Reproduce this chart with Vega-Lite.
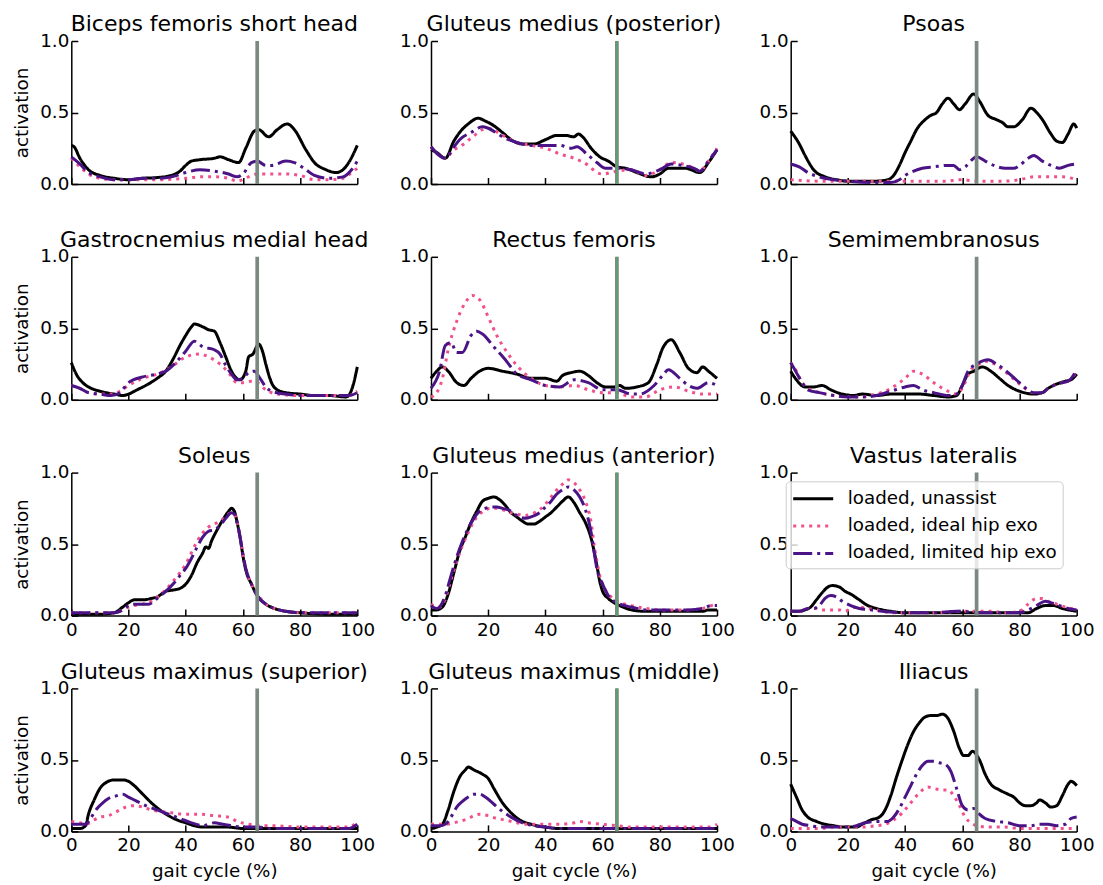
{
"$schema":"https://vega.github.io/schema/vega-lite/v6.json",
"background":"white",
"padding":{"left":12.3,"top":13,"right":5,"bottom":5},
"datasets":{"d":[
{"m":"BF","s":"u","x":0,"y":0.27},{"m":"BF","s":"u","x":1,"y":0.26},{"m":"BF","s":"u","x":3,"y":0.18},{"m":"BF","s":"u","x":6,"y":0.10},{"m":"BF","s":"u","x":10,"y":0.06},{"m":"BF","s":"u","x":15,"y":0.04},{"m":"BF","s":"u","x":20,"y":0.03},{"m":"BF","s":"u","x":25,"y":0.04},{"m":"BF","s":"u","x":30,"y":0.045},{"m":"BF","s":"u","x":35,"y":0.06},{"m":"BF","s":"u","x":38,"y":0.09},{"m":"BF","s":"u","x":40,"y":0.13},{"m":"BF","s":"u","x":42,"y":0.16},{"m":"BF","s":"u","x":45,"y":0.17},{"m":"BF","s":"u","x":50,"y":0.18},{"m":"BF","s":"u","x":52,"y":0.19},{"m":"BF","s":"u","x":55,"y":0.17},{"m":"BF","s":"u","x":58.5,"y":0.15},{"m":"BF","s":"u","x":61,"y":0.25},{"m":"BF","s":"u","x":64,"y":0.37},{"m":"BF","s":"u","x":65.5,"y":0.38},{"m":"BF","s":"u","x":69,"y":0.33},{"m":"BF","s":"u","x":72,"y":0.38},{"m":"BF","s":"u","x":75.5,"y":0.42},{"m":"BF","s":"u","x":78,"y":0.38},{"m":"BF","s":"u","x":82,"y":0.24},{"m":"BF","s":"u","x":85,"y":0.15},{"m":"BF","s":"u","x":89,"y":0.10},{"m":"BF","s":"u","x":92.5,"y":0.08},{"m":"BF","s":"u","x":95,"y":0.10},{"m":"BF","s":"u","x":97,"y":0.15},{"m":"BF","s":"u","x":100,"y":0.27},
{"m":"BF","s":"i","x":0,"y":0.18},{"m":"BF","s":"i","x":3,"y":0.12},{"m":"BF","s":"i","x":6,"y":0.07},{"m":"BF","s":"i","x":10,"y":0.04},{"m":"BF","s":"i","x":15,"y":0.03},{"m":"BF","s":"i","x":20,"y":0.03},{"m":"BF","s":"i","x":30,"y":0.03},{"m":"BF","s":"i","x":40,"y":0.04},{"m":"BF","s":"i","x":45,"y":0.05},{"m":"BF","s":"i","x":50,"y":0.05},{"m":"BF","s":"i","x":55,"y":0.04},{"m":"BF","s":"i","x":58,"y":0.02},{"m":"BF","s":"i","x":60,"y":0.03},{"m":"BF","s":"i","x":63,"y":0.06},{"m":"BF","s":"i","x":65,"y":0.07},{"m":"BF","s":"i","x":70,"y":0.07},{"m":"BF","s":"i","x":75,"y":0.07},{"m":"BF","s":"i","x":80,"y":0.06},{"m":"BF","s":"i","x":85,"y":0.03},{"m":"BF","s":"i","x":90,"y":0.03},{"m":"BF","s":"i","x":95,"y":0.04},{"m":"BF","s":"i","x":98,"y":0.08},{"m":"BF","s":"i","x":100,"y":0.11},
{"m":"BF","s":"l","x":0,"y":0.19},{"m":"BF","s":"l","x":3,"y":0.14},{"m":"BF","s":"l","x":6,"y":0.08},{"m":"BF","s":"l","x":10,"y":0.05},{"m":"BF","s":"l","x":15,"y":0.03},{"m":"BF","s":"l","x":20,"y":0.03},{"m":"BF","s":"l","x":25,"y":0.04},{"m":"BF","s":"l","x":30,"y":0.04},{"m":"BF","s":"l","x":35,"y":0.05},{"m":"BF","s":"l","x":40,"y":0.08},{"m":"BF","s":"l","x":45,"y":0.10},{"m":"BF","s":"l","x":50,"y":0.09},{"m":"BF","s":"l","x":55,"y":0.07},{"m":"BF","s":"l","x":58,"y":0.05},{"m":"BF","s":"l","x":60,"y":0.07},{"m":"BF","s":"l","x":63,"y":0.15},{"m":"BF","s":"l","x":65,"y":0.16},{"m":"BF","s":"l","x":68,"y":0.13},{"m":"BF","s":"l","x":70,"y":0.13},{"m":"BF","s":"l","x":75,"y":0.16},{"m":"BF","s":"l","x":78,"y":0.15},{"m":"BF","s":"l","x":82,"y":0.10},{"m":"BF","s":"l","x":85,"y":0.06},{"m":"BF","s":"l","x":90,"y":0.04},{"m":"BF","s":"l","x":95,"y":0.05},{"m":"BF","s":"l","x":98,"y":0.10},{"m":"BF","s":"l","x":100,"y":0.16},
{"m":"GMP","s":"u","x":0,"y":0.24},{"m":"GMP","s":"u","x":2,"y":0.22},{"m":"GMP","s":"u","x":5,"y":0.18},{"m":"GMP","s":"u","x":8,"y":0.30},{"m":"GMP","s":"u","x":10,"y":0.36},{"m":"GMP","s":"u","x":13,"y":0.42},{"m":"GMP","s":"u","x":16.5,"y":0.46},{"m":"GMP","s":"u","x":19,"y":0.44},{"m":"GMP","s":"u","x":21,"y":0.42},{"m":"GMP","s":"u","x":25,"y":0.36},{"m":"GMP","s":"u","x":28,"y":0.31},{"m":"GMP","s":"u","x":32,"y":0.28},{"m":"GMP","s":"u","x":36,"y":0.28},{"m":"GMP","s":"u","x":40,"y":0.31},{"m":"GMP","s":"u","x":44,"y":0.34},{"m":"GMP","s":"u","x":47,"y":0.34},{"m":"GMP","s":"u","x":50,"y":0.33},{"m":"GMP","s":"u","x":51.5,"y":0.35},{"m":"GMP","s":"u","x":53,"y":0.33},{"m":"GMP","s":"u","x":56,"y":0.25},{"m":"GMP","s":"u","x":59,"y":0.19},{"m":"GMP","s":"u","x":62,"y":0.16},{"m":"GMP","s":"u","x":65,"y":0.12},{"m":"GMP","s":"u","x":68,"y":0.11},{"m":"GMP","s":"u","x":72,"y":0.08},{"m":"GMP","s":"u","x":77,"y":0.05},{"m":"GMP","s":"u","x":80,"y":0.07},{"m":"GMP","s":"u","x":83,"y":0.11},{"m":"GMP","s":"u","x":86,"y":0.11},{"m":"GMP","s":"u","x":89,"y":0.11},{"m":"GMP","s":"u","x":94,"y":0.08},{"m":"GMP","s":"u","x":97,"y":0.15},{"m":"GMP","s":"u","x":100,"y":0.24},
{"m":"GMP","s":"i","x":0,"y":0.26},{"m":"GMP","s":"i","x":5,"y":0.18},{"m":"GMP","s":"i","x":8,"y":0.24},{"m":"GMP","s":"i","x":10,"y":0.26},{"m":"GMP","s":"i","x":14,"y":0.32},{"m":"GMP","s":"i","x":18,"y":0.38},{"m":"GMP","s":"i","x":20,"y":0.39},{"m":"GMP","s":"i","x":25,"y":0.34},{"m":"GMP","s":"i","x":30,"y":0.29},{"m":"GMP","s":"i","x":35,"y":0.27},{"m":"GMP","s":"i","x":40,"y":0.25},{"m":"GMP","s":"i","x":45,"y":0.21},{"m":"GMP","s":"i","x":50,"y":0.18},{"m":"GMP","s":"i","x":55,"y":0.13},{"m":"GMP","s":"i","x":58,"y":0.08},{"m":"GMP","s":"i","x":60,"y":0.07},{"m":"GMP","s":"i","x":65,"y":0.09},{"m":"GMP","s":"i","x":70,"y":0.10},{"m":"GMP","s":"i","x":75,"y":0.06},{"m":"GMP","s":"i","x":80,"y":0.10},{"m":"GMP","s":"i","x":84,"y":0.15},{"m":"GMP","s":"i","x":88,"y":0.14},{"m":"GMP","s":"i","x":92,"y":0.11},{"m":"GMP","s":"i","x":94,"y":0.09},{"m":"GMP","s":"i","x":97,"y":0.16},{"m":"GMP","s":"i","x":100,"y":0.25},
{"m":"GMP","s":"l","x":0,"y":0.26},{"m":"GMP","s":"l","x":5,"y":0.18},{"m":"GMP","s":"l","x":8,"y":0.26},{"m":"GMP","s":"l","x":10,"y":0.31},{"m":"GMP","s":"l","x":14,"y":0.36},{"m":"GMP","s":"l","x":18,"y":0.40},{"m":"GMP","s":"l","x":20,"y":0.39},{"m":"GMP","s":"l","x":25,"y":0.33},{"m":"GMP","s":"l","x":30,"y":0.29},{"m":"GMP","s":"l","x":35,"y":0.27},{"m":"GMP","s":"l","x":40,"y":0.27},{"m":"GMP","s":"l","x":45,"y":0.27},{"m":"GMP","s":"l","x":49,"y":0.25},{"m":"GMP","s":"l","x":51,"y":0.26},{"m":"GMP","s":"l","x":55,"y":0.20},{"m":"GMP","s":"l","x":58,"y":0.15},{"m":"GMP","s":"l","x":61,"y":0.11},{"m":"GMP","s":"l","x":65,"y":0.11},{"m":"GMP","s":"l","x":70,"y":0.10},{"m":"GMP","s":"l","x":75,"y":0.07},{"m":"GMP","s":"l","x":80,"y":0.10},{"m":"GMP","s":"l","x":84,"y":0.14},{"m":"GMP","s":"l","x":88,"y":0.13},{"m":"GMP","s":"l","x":92,"y":0.11},{"m":"GMP","s":"l","x":94,"y":0.09},{"m":"GMP","s":"l","x":97,"y":0.16},{"m":"GMP","s":"l","x":100,"y":0.24},
{"m":"PS","s":"u","x":0,"y":0.37},{"m":"PS","s":"u","x":3,"y":0.28},{"m":"PS","s":"u","x":5,"y":0.20},{"m":"PS","s":"u","x":8,"y":0.10},{"m":"PS","s":"u","x":12,"y":0.05},{"m":"PS","s":"u","x":16,"y":0.03},{"m":"PS","s":"u","x":20,"y":0.02},{"m":"PS","s":"u","x":25,"y":0.02},{"m":"PS","s":"u","x":30,"y":0.02},{"m":"PS","s":"u","x":34,"y":0.03},{"m":"PS","s":"u","x":36,"y":0.06},{"m":"PS","s":"u","x":38,"y":0.13},{"m":"PS","s":"u","x":40,"y":0.22},{"m":"PS","s":"u","x":42,"y":0.30},{"m":"PS","s":"u","x":44,"y":0.38},{"m":"PS","s":"u","x":47,"y":0.45},{"m":"PS","s":"u","x":49,"y":0.48},{"m":"PS","s":"u","x":51,"y":0.50},{"m":"PS","s":"u","x":53,"y":0.56},{"m":"PS","s":"u","x":55,"y":0.60},{"m":"PS","s":"u","x":57,"y":0.56},{"m":"PS","s":"u","x":59,"y":0.52},{"m":"PS","s":"u","x":61,"y":0.56},{"m":"PS","s":"u","x":64,"y":0.63},{"m":"PS","s":"u","x":66,"y":0.58},{"m":"PS","s":"u","x":69,"y":0.48},{"m":"PS","s":"u","x":72,"y":0.45},{"m":"PS","s":"u","x":74,"y":0.43},{"m":"PS","s":"u","x":76,"y":0.40},{"m":"PS","s":"u","x":78,"y":0.40},{"m":"PS","s":"u","x":81,"y":0.45},{"m":"PS","s":"u","x":84,"y":0.53},{"m":"PS","s":"u","x":86,"y":0.50},{"m":"PS","s":"u","x":88,"y":0.45},{"m":"PS","s":"u","x":91,"y":0.35},{"m":"PS","s":"u","x":93,"y":0.30},{"m":"PS","s":"u","x":95,"y":0.29},{"m":"PS","s":"u","x":97,"y":0.35},{"m":"PS","s":"u","x":99,"y":0.42},{"m":"PS","s":"u","x":100,"y":0.39},
{"m":"PS","s":"i","x":0,"y":0.03},{"m":"PS","s":"i","x":10,"y":0.02},{"m":"PS","s":"i","x":20,"y":0.02},{"m":"PS","s":"i","x":30,"y":0.02},{"m":"PS","s":"i","x":40,"y":0.02},{"m":"PS","s":"i","x":50,"y":0.02},{"m":"PS","s":"i","x":55,"y":0.02},{"m":"PS","s":"i","x":58,"y":0.03},{"m":"PS","s":"i","x":60,"y":0.03},{"m":"PS","s":"i","x":65,"y":0.02},{"m":"PS","s":"i","x":70,"y":0.02},{"m":"PS","s":"i","x":75,"y":0.02},{"m":"PS","s":"i","x":80,"y":0.03},{"m":"PS","s":"i","x":85,"y":0.05},{"m":"PS","s":"i","x":90,"y":0.05},{"m":"PS","s":"i","x":95,"y":0.05},{"m":"PS","s":"i","x":100,"y":0.03},
{"m":"PS","s":"l","x":0,"y":0.14},{"m":"PS","s":"l","x":3,"y":0.12},{"m":"PS","s":"l","x":6,"y":0.08},{"m":"PS","s":"l","x":10,"y":0.05},{"m":"PS","s":"l","x":15,"y":0.03},{"m":"PS","s":"l","x":20,"y":0.02},{"m":"PS","s":"l","x":30,"y":0.01},{"m":"PS","s":"l","x":35,"y":0.01},{"m":"PS","s":"l","x":38,"y":0.03},{"m":"PS","s":"l","x":40,"y":0.06},{"m":"PS","s":"l","x":43,"y":0.09},{"m":"PS","s":"l","x":46,"y":0.11},{"m":"PS","s":"l","x":50,"y":0.12},{"m":"PS","s":"l","x":55,"y":0.13},{"m":"PS","s":"l","x":57,"y":0.13},{"m":"PS","s":"l","x":59,"y":0.10},{"m":"PS","s":"l","x":61,"y":0.12},{"m":"PS","s":"l","x":64,"y":0.18},{"m":"PS","s":"l","x":65,"y":0.19},{"m":"PS","s":"l","x":68,"y":0.16},{"m":"PS","s":"l","x":71,"y":0.13},{"m":"PS","s":"l","x":75,"y":0.11},{"m":"PS","s":"l","x":78,"y":0.11},{"m":"PS","s":"l","x":80,"y":0.13},{"m":"PS","s":"l","x":83,"y":0.18},{"m":"PS","s":"l","x":85,"y":0.20},{"m":"PS","s":"l","x":88,"y":0.16},{"m":"PS","s":"l","x":91,"y":0.13},{"m":"PS","s":"l","x":94,"y":0.11},{"m":"PS","s":"l","x":97,"y":0.13},{"m":"PS","s":"l","x":100,"y":0.14},
{"m":"GM","s":"u","x":0,"y":0.26},{"m":"GM","s":"u","x":2,"y":0.17},{"m":"GM","s":"u","x":4,"y":0.12},{"m":"GM","s":"u","x":7,"y":0.08},{"m":"GM","s":"u","x":10,"y":0.06},{"m":"GM","s":"u","x":15,"y":0.04},{"m":"GM","s":"u","x":18,"y":0.03},{"m":"GM","s":"u","x":20,"y":0.04},{"m":"GM","s":"u","x":23,"y":0.07},{"m":"GM","s":"u","x":26,"y":0.10},{"m":"GM","s":"u","x":30,"y":0.15},{"m":"GM","s":"u","x":33,"y":0.20},{"m":"GM","s":"u","x":36,"y":0.30},{"m":"GM","s":"u","x":38,"y":0.38},{"m":"GM","s":"u","x":40,"y":0.45},{"m":"GM","s":"u","x":42,"y":0.51},{"m":"GM","s":"u","x":43,"y":0.53},{"m":"GM","s":"u","x":46,"y":0.51},{"m":"GM","s":"u","x":48,"y":0.49},{"m":"GM","s":"u","x":50,"y":0.48},{"m":"GM","s":"u","x":52,"y":0.40},{"m":"GM","s":"u","x":54,"y":0.30},{"m":"GM","s":"u","x":56,"y":0.20},{"m":"GM","s":"u","x":59,"y":0.14},{"m":"GM","s":"u","x":61,"y":0.20},{"m":"GM","s":"u","x":62,"y":0.30},{"m":"GM","s":"u","x":63.5,"y":0.32},{"m":"GM","s":"u","x":65.5,"y":0.39},{"m":"GM","s":"u","x":67,"y":0.33},{"m":"GM","s":"u","x":68,"y":0.25},{"m":"GM","s":"u","x":70,"y":0.12},{"m":"GM","s":"u","x":72,"y":0.07},{"m":"GM","s":"u","x":75,"y":0.05},{"m":"GM","s":"u","x":80,"y":0.04},{"m":"GM","s":"u","x":85,"y":0.03},{"m":"GM","s":"u","x":90,"y":0.03},{"m":"GM","s":"u","x":96,"y":0.02},{"m":"GM","s":"u","x":97,"y":0.03},{"m":"GM","s":"u","x":98.5,"y":0.10},{"m":"GM","s":"u","x":100,"y":0.23},
{"m":"GM","s":"i","x":0,"y":0.10},{"m":"GM","s":"i","x":3,"y":0.08},{"m":"GM","s":"i","x":6,"y":0.05},{"m":"GM","s":"i","x":10,"y":0.04},{"m":"GM","s":"i","x":14,"y":0.04},{"m":"GM","s":"i","x":17,"y":0.06},{"m":"GM","s":"i","x":20,"y":0.10},{"m":"GM","s":"i","x":25,"y":0.15},{"m":"GM","s":"i","x":30,"y":0.18},{"m":"GM","s":"i","x":35,"y":0.23},{"m":"GM","s":"i","x":40,"y":0.30},{"m":"GM","s":"i","x":45,"y":0.32},{"m":"GM","s":"i","x":48,"y":0.30},{"m":"GM","s":"i","x":52,"y":0.25},{"m":"GM","s":"i","x":55,"y":0.19},{"m":"GM","s":"i","x":58,"y":0.12},{"m":"GM","s":"i","x":60,"y":0.12},{"m":"GM","s":"i","x":63,"y":0.13},{"m":"GM","s":"i","x":65,"y":0.12},{"m":"GM","s":"i","x":68,"y":0.07},{"m":"GM","s":"i","x":72,"y":0.04},{"m":"GM","s":"i","x":80,"y":0.03},{"m":"GM","s":"i","x":90,"y":0.03},{"m":"GM","s":"i","x":97,"y":0.03},{"m":"GM","s":"i","x":100,"y":0.06},
{"m":"GM","s":"l","x":0,"y":0.10},{"m":"GM","s":"l","x":3,"y":0.08},{"m":"GM","s":"l","x":6,"y":0.05},{"m":"GM","s":"l","x":10,"y":0.04},{"m":"GM","s":"l","x":14,"y":0.03},{"m":"GM","s":"l","x":17,"y":0.05},{"m":"GM","s":"l","x":20,"y":0.12},{"m":"GM","s":"l","x":25,"y":0.16},{"m":"GM","s":"l","x":30,"y":0.18},{"m":"GM","s":"l","x":33,"y":0.20},{"m":"GM","s":"l","x":36,"y":0.25},{"m":"GM","s":"l","x":40,"y":0.34},{"m":"GM","s":"l","x":43,"y":0.41},{"m":"GM","s":"l","x":46,"y":0.37},{"m":"GM","s":"l","x":50,"y":0.35},{"m":"GM","s":"l","x":52,"y":0.32},{"m":"GM","s":"l","x":54,"y":0.24},{"m":"GM","s":"l","x":56,"y":0.18},{"m":"GM","s":"l","x":58,"y":0.14},{"m":"GM","s":"l","x":60,"y":0.15},{"m":"GM","s":"l","x":62,"y":0.19},{"m":"GM","s":"l","x":64,"y":0.20},{"m":"GM","s":"l","x":66,"y":0.15},{"m":"GM","s":"l","x":68,"y":0.09},{"m":"GM","s":"l","x":70,"y":0.06},{"m":"GM","s":"l","x":75,"y":0.04},{"m":"GM","s":"l","x":80,"y":0.03},{"m":"GM","s":"l","x":90,"y":0.03},{"m":"GM","s":"l","x":97,"y":0.03},{"m":"GM","s":"l","x":100,"y":0.05},
{"m":"RF","s":"u","x":0,"y":0.15},{"m":"RF","s":"u","x":2,"y":0.20},{"m":"RF","s":"u","x":4,"y":0.23},{"m":"RF","s":"u","x":6,"y":0.20},{"m":"RF","s":"u","x":9,"y":0.12},{"m":"RF","s":"u","x":11.5,"y":0.10},{"m":"RF","s":"u","x":14,"y":0.15},{"m":"RF","s":"u","x":17,"y":0.20},{"m":"RF","s":"u","x":20,"y":0.22},{"m":"RF","s":"u","x":25,"y":0.20},{"m":"RF","s":"u","x":30,"y":0.18},{"m":"RF","s":"u","x":35,"y":0.15},{"m":"RF","s":"u","x":40,"y":0.15},{"m":"RF","s":"u","x":44,"y":0.13},{"m":"RF","s":"u","x":46,"y":0.17},{"m":"RF","s":"u","x":49,"y":0.19},{"m":"RF","s":"u","x":52,"y":0.20},{"m":"RF","s":"u","x":55,"y":0.17},{"m":"RF","s":"u","x":58,"y":0.12},{"m":"RF","s":"u","x":61,"y":0.09},{"m":"RF","s":"u","x":64,"y":0.09},{"m":"RF","s":"u","x":66,"y":0.10},{"m":"RF","s":"u","x":68,"y":0.08},{"m":"RF","s":"u","x":72,"y":0.09},{"m":"RF","s":"u","x":76,"y":0.12},{"m":"RF","s":"u","x":79,"y":0.25},{"m":"RF","s":"u","x":81,"y":0.36},{"m":"RF","s":"u","x":84,"y":0.42},{"m":"RF","s":"u","x":87,"y":0.33},{"m":"RF","s":"u","x":90,"y":0.22},{"m":"RF","s":"u","x":93,"y":0.19},{"m":"RF","s":"u","x":95,"y":0.23},{"m":"RF","s":"u","x":97,"y":0.20},{"m":"RF","s":"u","x":100,"y":0.15},
{"m":"RF","s":"i","x":0,"y":0.02},{"m":"RF","s":"i","x":2,"y":0.05},{"m":"RF","s":"i","x":4,"y":0.15},{"m":"RF","s":"i","x":6,"y":0.35},{"m":"RF","s":"i","x":9,"y":0.55},{"m":"RF","s":"i","x":12,"y":0.68},{"m":"RF","s":"i","x":14.5,"y":0.73},{"m":"RF","s":"i","x":17,"y":0.70},{"m":"RF","s":"i","x":20,"y":0.58},{"m":"RF","s":"i","x":23,"y":0.45},{"m":"RF","s":"i","x":26,"y":0.35},{"m":"RF","s":"i","x":30,"y":0.24},{"m":"RF","s":"i","x":35,"y":0.15},{"m":"RF","s":"i","x":40,"y":0.10},{"m":"RF","s":"i","x":45,"y":0.09},{"m":"RF","s":"i","x":50,"y":0.10},{"m":"RF","s":"i","x":55,"y":0.07},{"m":"RF","s":"i","x":60,"y":0.05},{"m":"RF","s":"i","x":65,"y":0.05},{"m":"RF","s":"i","x":70,"y":0.02},{"m":"RF","s":"i","x":75,"y":0.02},{"m":"RF","s":"i","x":80,"y":0.07},{"m":"RF","s":"i","x":85,"y":0.09},{"m":"RF","s":"i","x":90,"y":0.06},{"m":"RF","s":"i","x":95,"y":0.04},{"m":"RF","s":"i","x":100,"y":0.04},
{"m":"RF","s":"l","x":0,"y":0.08},{"m":"RF","s":"l","x":3,"y":0.20},{"m":"RF","s":"l","x":5,"y":0.38},{"m":"RF","s":"l","x":7,"y":0.40},{"m":"RF","s":"l","x":9,"y":0.33},{"m":"RF","s":"l","x":11,"y":0.33},{"m":"RF","s":"l","x":14,"y":0.45},{"m":"RF","s":"l","x":16,"y":0.48},{"m":"RF","s":"l","x":18,"y":0.46},{"m":"RF","s":"l","x":22,"y":0.37},{"m":"RF","s":"l","x":26,"y":0.28},{"m":"RF","s":"l","x":30,"y":0.18},{"m":"RF","s":"l","x":35,"y":0.14},{"m":"RF","s":"l","x":40,"y":0.10},{"m":"RF","s":"l","x":45,"y":0.09},{"m":"RF","s":"l","x":50,"y":0.14},{"m":"RF","s":"l","x":55,"y":0.12},{"m":"RF","s":"l","x":60,"y":0.07},{"m":"RF","s":"l","x":65,"y":0.07},{"m":"RF","s":"l","x":70,"y":0.04},{"m":"RF","s":"l","x":73,"y":0.04},{"m":"RF","s":"l","x":78,"y":0.10},{"m":"RF","s":"l","x":81,"y":0.17},{"m":"RF","s":"l","x":83,"y":0.21},{"m":"RF","s":"l","x":87,"y":0.15},{"m":"RF","s":"l","x":90,"y":0.10},{"m":"RF","s":"l","x":93,"y":0.08},{"m":"RF","s":"l","x":97,"y":0.12},{"m":"RF","s":"l","x":100,"y":0.10},
{"m":"SM","s":"u","x":0,"y":0.20},{"m":"SM","s":"u","x":2,"y":0.14},{"m":"SM","s":"u","x":5,"y":0.09},{"m":"SM","s":"u","x":8,"y":0.09},{"m":"SM","s":"u","x":11,"y":0.10},{"m":"SM","s":"u","x":14,"y":0.07},{"m":"SM","s":"u","x":18,"y":0.04},{"m":"SM","s":"u","x":22,"y":0.03},{"m":"SM","s":"u","x":25,"y":0.04},{"m":"SM","s":"u","x":30,"y":0.03},{"m":"SM","s":"u","x":35,"y":0.04},{"m":"SM","s":"u","x":40,"y":0.04},{"m":"SM","s":"u","x":45,"y":0.04},{"m":"SM","s":"u","x":50,"y":0.03},{"m":"SM","s":"u","x":55,"y":0.02},{"m":"SM","s":"u","x":58,"y":0.03},{"m":"SM","s":"u","x":60,"y":0.10},{"m":"SM","s":"u","x":62,"y":0.18},{"m":"SM","s":"u","x":64,"y":0.20},{"m":"SM","s":"u","x":67,"y":0.23},{"m":"SM","s":"u","x":70,"y":0.20},{"m":"SM","s":"u","x":73,"y":0.15},{"m":"SM","s":"u","x":76,"y":0.10},{"m":"SM","s":"u","x":80,"y":0.06},{"m":"SM","s":"u","x":85,"y":0.04},{"m":"SM","s":"u","x":88,"y":0.05},{"m":"SM","s":"u","x":90,"y":0.08},{"m":"SM","s":"u","x":93,"y":0.11},{"m":"SM","s":"u","x":96,"y":0.13},{"m":"SM","s":"u","x":98,"y":0.14},{"m":"SM","s":"u","x":100,"y":0.18},
{"m":"SM","s":"i","x":0,"y":0.26},{"m":"SM","s":"i","x":2,"y":0.20},{"m":"SM","s":"i","x":4,"y":0.12},{"m":"SM","s":"i","x":6,"y":0.08},{"m":"SM","s":"i","x":10,"y":0.05},{"m":"SM","s":"i","x":15,"y":0.03},{"m":"SM","s":"i","x":20,"y":0.02},{"m":"SM","s":"i","x":25,"y":0.02},{"m":"SM","s":"i","x":30,"y":0.04},{"m":"SM","s":"i","x":35,"y":0.08},{"m":"SM","s":"i","x":40,"y":0.15},{"m":"SM","s":"i","x":43,"y":0.20},{"m":"SM","s":"i","x":46,"y":0.18},{"m":"SM","s":"i","x":50,"y":0.12},{"m":"SM","s":"i","x":55,"y":0.06},{"m":"SM","s":"i","x":58,"y":0.04},{"m":"SM","s":"i","x":60,"y":0.08},{"m":"SM","s":"i","x":63,"y":0.21},{"m":"SM","s":"i","x":65,"y":0.24},{"m":"SM","s":"i","x":69,"y":0.27},{"m":"SM","s":"i","x":72,"y":0.24},{"m":"SM","s":"i","x":76,"y":0.18},{"m":"SM","s":"i","x":80,"y":0.11},{"m":"SM","s":"i","x":85,"y":0.05},{"m":"SM","s":"i","x":88,"y":0.05},{"m":"SM","s":"i","x":90,"y":0.08},{"m":"SM","s":"i","x":93,"y":0.11},{"m":"SM","s":"i","x":97,"y":0.13},{"m":"SM","s":"i","x":100,"y":0.20},
{"m":"SM","s":"l","x":0,"y":0.26},{"m":"SM","s":"l","x":2,"y":0.19},{"m":"SM","s":"l","x":4,"y":0.12},{"m":"SM","s":"l","x":6,"y":0.07},{"m":"SM","s":"l","x":10,"y":0.05},{"m":"SM","s":"l","x":15,"y":0.03},{"m":"SM","s":"l","x":20,"y":0.02},{"m":"SM","s":"l","x":25,"y":0.02},{"m":"SM","s":"l","x":30,"y":0.03},{"m":"SM","s":"l","x":35,"y":0.06},{"m":"SM","s":"l","x":40,"y":0.09},{"m":"SM","s":"l","x":43,"y":0.10},{"m":"SM","s":"l","x":46,"y":0.07},{"m":"SM","s":"l","x":50,"y":0.05},{"m":"SM","s":"l","x":55,"y":0.03},{"m":"SM","s":"l","x":58,"y":0.04},{"m":"SM","s":"l","x":60,"y":0.10},{"m":"SM","s":"l","x":62,"y":0.20},{"m":"SM","s":"l","x":65,"y":0.25},{"m":"SM","s":"l","x":69,"y":0.28},{"m":"SM","s":"l","x":72,"y":0.25},{"m":"SM","s":"l","x":76,"y":0.19},{"m":"SM","s":"l","x":80,"y":0.12},{"m":"SM","s":"l","x":85,"y":0.05},{"m":"SM","s":"l","x":88,"y":0.05},{"m":"SM","s":"l","x":90,"y":0.08},{"m":"SM","s":"l","x":93,"y":0.11},{"m":"SM","s":"l","x":97,"y":0.13},{"m":"SM","s":"l","x":100,"y":0.21},
{"m":"SO","s":"u","x":0,"y":0.01},{"m":"SO","s":"u","x":10,"y":0.01},{"m":"SO","s":"u","x":15,"y":0.02},{"m":"SO","s":"u","x":18,"y":0.06},{"m":"SO","s":"u","x":20,"y":0.09},{"m":"SO","s":"u","x":22,"y":0.11},{"m":"SO","s":"u","x":25,"y":0.11},{"m":"SO","s":"u","x":28,"y":0.12},{"m":"SO","s":"u","x":30,"y":0.13},{"m":"SO","s":"u","x":33,"y":0.17},{"m":"SO","s":"u","x":36,"y":0.18},{"m":"SO","s":"u","x":38,"y":0.19},{"m":"SO","s":"u","x":40,"y":0.22},{"m":"SO","s":"u","x":42,"y":0.28},{"m":"SO","s":"u","x":44,"y":0.37},{"m":"SO","s":"u","x":46,"y":0.44},{"m":"SO","s":"u","x":47,"y":0.48},{"m":"SO","s":"u","x":48,"y":0.47},{"m":"SO","s":"u","x":49,"y":0.52},{"m":"SO","s":"u","x":51,"y":0.60},{"m":"SO","s":"u","x":53,"y":0.67},{"m":"SO","s":"u","x":55,"y":0.73},{"m":"SO","s":"u","x":56,"y":0.75},{"m":"SO","s":"u","x":57,"y":0.73},{"m":"SO","s":"u","x":58,"y":0.65},{"m":"SO","s":"u","x":59,"y":0.55},{"m":"SO","s":"u","x":60,"y":0.42},{"m":"SO","s":"u","x":61,"y":0.32},{"m":"SO","s":"u","x":63,"y":0.22},{"m":"SO","s":"u","x":65,"y":0.14},{"m":"SO","s":"u","x":68,"y":0.08},{"m":"SO","s":"u","x":71,"y":0.05},{"m":"SO","s":"u","x":75,"y":0.03},{"m":"SO","s":"u","x":80,"y":0.02},{"m":"SO","s":"u","x":90,"y":0.01},{"m":"SO","s":"u","x":100,"y":0.01},
{"m":"SO","s":"i","x":0,"y":0.02},{"m":"SO","s":"i","x":15,"y":0.02},{"m":"SO","s":"i","x":18,"y":0.04},{"m":"SO","s":"i","x":20,"y":0.06},{"m":"SO","s":"i","x":22,"y":0.07},{"m":"SO","s":"i","x":25,"y":0.08},{"m":"SO","s":"i","x":28,"y":0.10},{"m":"SO","s":"i","x":30,"y":0.13},{"m":"SO","s":"i","x":33,"y":0.18},{"m":"SO","s":"i","x":36,"y":0.25},{"m":"SO","s":"i","x":38,"y":0.30},{"m":"SO","s":"i","x":40,"y":0.36},{"m":"SO","s":"i","x":42,"y":0.44},{"m":"SO","s":"i","x":44,"y":0.52},{"m":"SO","s":"i","x":46,"y":0.58},{"m":"SO","s":"i","x":48,"y":0.62},{"m":"SO","s":"i","x":50,"y":0.64},{"m":"SO","s":"i","x":52,"y":0.66},{"m":"SO","s":"i","x":54,"y":0.69},{"m":"SO","s":"i","x":56,"y":0.72},{"m":"SO","s":"i","x":57,"y":0.71},{"m":"SO","s":"i","x":58,"y":0.65},{"m":"SO","s":"i","x":59,"y":0.55},{"m":"SO","s":"i","x":60,"y":0.43},{"m":"SO","s":"i","x":61,"y":0.33},{"m":"SO","s":"i","x":63,"y":0.22},{"m":"SO","s":"i","x":65,"y":0.15},{"m":"SO","s":"i","x":68,"y":0.08},{"m":"SO","s":"i","x":71,"y":0.05},{"m":"SO","s":"i","x":75,"y":0.03},{"m":"SO","s":"i","x":80,"y":0.02},{"m":"SO","s":"i","x":90,"y":0.02},{"m":"SO","s":"i","x":100,"y":0.02},
{"m":"SO","s":"l","x":0,"y":0.02},{"m":"SO","s":"l","x":15,"y":0.02},{"m":"SO","s":"l","x":18,"y":0.04},{"m":"SO","s":"l","x":20,"y":0.07},{"m":"SO","s":"l","x":22,"y":0.08},{"m":"SO","s":"l","x":25,"y":0.08},{"m":"SO","s":"l","x":27,"y":0.08},{"m":"SO","s":"l","x":30,"y":0.12},{"m":"SO","s":"l","x":33,"y":0.17},{"m":"SO","s":"l","x":36,"y":0.23},{"m":"SO","s":"l","x":38,"y":0.28},{"m":"SO","s":"l","x":40,"y":0.33},{"m":"SO","s":"l","x":42,"y":0.40},{"m":"SO","s":"l","x":44,"y":0.48},{"m":"SO","s":"l","x":46,"y":0.55},{"m":"SO","s":"l","x":48,"y":0.59},{"m":"SO","s":"l","x":50,"y":0.60},{"m":"SO","s":"l","x":52,"y":0.63},{"m":"SO","s":"l","x":54,"y":0.68},{"m":"SO","s":"l","x":56,"y":0.72},{"m":"SO","s":"l","x":57,"y":0.71},{"m":"SO","s":"l","x":58,"y":0.65},{"m":"SO","s":"l","x":59,"y":0.55},{"m":"SO","s":"l","x":60,"y":0.43},{"m":"SO","s":"l","x":61,"y":0.33},{"m":"SO","s":"l","x":63,"y":0.22},{"m":"SO","s":"l","x":65,"y":0.14},{"m":"SO","s":"l","x":68,"y":0.08},{"m":"SO","s":"l","x":71,"y":0.05},{"m":"SO","s":"l","x":75,"y":0.03},{"m":"SO","s":"l","x":80,"y":0.02},{"m":"SO","s":"l","x":90,"y":0.02},{"m":"SO","s":"l","x":100,"y":0.02},
{"m":"GMA","s":"u","x":0,"y":0.04},{"m":"GMA","s":"u","x":2,"y":0.04},{"m":"GMA","s":"u","x":4,"y":0.06},{"m":"GMA","s":"u","x":6,"y":0.15},{"m":"GMA","s":"u","x":8,"y":0.30},{"m":"GMA","s":"u","x":10,"y":0.45},{"m":"GMA","s":"u","x":12,"y":0.55},{"m":"GMA","s":"u","x":14,"y":0.65},{"m":"GMA","s":"u","x":16,"y":0.73},{"m":"GMA","s":"u","x":18,"y":0.80},{"m":"GMA","s":"u","x":20,"y":0.82},{"m":"GMA","s":"u","x":22,"y":0.83},{"m":"GMA","s":"u","x":24,"y":0.81},{"m":"GMA","s":"u","x":26,"y":0.77},{"m":"GMA","s":"u","x":28,"y":0.72},{"m":"GMA","s":"u","x":30,"y":0.69},{"m":"GMA","s":"u","x":32,"y":0.66},{"m":"GMA","s":"u","x":34,"y":0.64},{"m":"GMA","s":"u","x":36,"y":0.64},{"m":"GMA","s":"u","x":38,"y":0.66},{"m":"GMA","s":"u","x":40,"y":0.69},{"m":"GMA","s":"u","x":42,"y":0.72},{"m":"GMA","s":"u","x":44,"y":0.76},{"m":"GMA","s":"u","x":46,"y":0.80},{"m":"GMA","s":"u","x":48,"y":0.83},{"m":"GMA","s":"u","x":50,"y":0.79},{"m":"GMA","s":"u","x":52,"y":0.72},{"m":"GMA","s":"u","x":54,"y":0.65},{"m":"GMA","s":"u","x":56,"y":0.54},{"m":"GMA","s":"u","x":58,"y":0.35},{"m":"GMA","s":"u","x":59,"y":0.24},{"m":"GMA","s":"u","x":60,"y":0.17},{"m":"GMA","s":"u","x":62,"y":0.12},{"m":"GMA","s":"u","x":64,"y":0.09},{"m":"GMA","s":"u","x":66,"y":0.07},{"m":"GMA","s":"u","x":70,"y":0.04},{"m":"GMA","s":"u","x":75,"y":0.03},{"m":"GMA","s":"u","x":85,"y":0.03},{"m":"GMA","s":"u","x":95,"y":0.03},{"m":"GMA","s":"u","x":97,"y":0.04},{"m":"GMA","s":"u","x":100,"y":0.04},
{"m":"GMA","s":"i","x":0,"y":0.08},{"m":"GMA","s":"i","x":2,"y":0.06},{"m":"GMA","s":"i","x":3,"y":0.06},{"m":"GMA","s":"i","x":5,"y":0.12},{"m":"GMA","s":"i","x":7,"y":0.25},{"m":"GMA","s":"i","x":9,"y":0.38},{"m":"GMA","s":"i","x":11,"y":0.49},{"m":"GMA","s":"i","x":13,"y":0.58},{"m":"GMA","s":"i","x":15,"y":0.66},{"m":"GMA","s":"i","x":17,"y":0.71},{"m":"GMA","s":"i","x":19,"y":0.74},{"m":"GMA","s":"i","x":21,"y":0.75},{"m":"GMA","s":"i","x":23,"y":0.75},{"m":"GMA","s":"i","x":25,"y":0.74},{"m":"GMA","s":"i","x":28,"y":0.72},{"m":"GMA","s":"i","x":30,"y":0.71},{"m":"GMA","s":"i","x":33,"y":0.70},{"m":"GMA","s":"i","x":35,"y":0.71},{"m":"GMA","s":"i","x":38,"y":0.74},{"m":"GMA","s":"i","x":40,"y":0.78},{"m":"GMA","s":"i","x":42,"y":0.83},{"m":"GMA","s":"i","x":44,"y":0.88},{"m":"GMA","s":"i","x":46,"y":0.92},{"m":"GMA","s":"i","x":48,"y":0.95},{"m":"GMA","s":"i","x":50,"y":0.93},{"m":"GMA","s":"i","x":52,"y":0.88},{"m":"GMA","s":"i","x":54,"y":0.80},{"m":"GMA","s":"i","x":56,"y":0.65},{"m":"GMA","s":"i","x":57,"y":0.50},{"m":"GMA","s":"i","x":58,"y":0.38},{"m":"GMA","s":"i","x":59,"y":0.28},{"m":"GMA","s":"i","x":61,"y":0.18},{"m":"GMA","s":"i","x":63,"y":0.13},{"m":"GMA","s":"i","x":65,"y":0.10},{"m":"GMA","s":"i","x":70,"y":0.07},{"m":"GMA","s":"i","x":75,"y":0.05},{"m":"GMA","s":"i","x":80,"y":0.04},{"m":"GMA","s":"i","x":90,"y":0.04},{"m":"GMA","s":"i","x":95,"y":0.05},{"m":"GMA","s":"i","x":98,"y":0.07},{"m":"GMA","s":"i","x":100,"y":0.08},
{"m":"GMA","s":"l","x":0,"y":0.07},{"m":"GMA","s":"l","x":2,"y":0.05},{"m":"GMA","s":"l","x":3,"y":0.06},{"m":"GMA","s":"l","x":5,"y":0.14},{"m":"GMA","s":"l","x":7,"y":0.28},{"m":"GMA","s":"l","x":9,"y":0.41},{"m":"GMA","s":"l","x":11,"y":0.52},{"m":"GMA","s":"l","x":13,"y":0.61},{"m":"GMA","s":"l","x":15,"y":0.68},{"m":"GMA","s":"l","x":17,"y":0.73},{"m":"GMA","s":"l","x":19,"y":0.75},{"m":"GMA","s":"l","x":21,"y":0.76},{"m":"GMA","s":"l","x":23,"y":0.76},{"m":"GMA","s":"l","x":25,"y":0.75},{"m":"GMA","s":"l","x":28,"y":0.73},{"m":"GMA","s":"l","x":30,"y":0.70},{"m":"GMA","s":"l","x":33,"y":0.68},{"m":"GMA","s":"l","x":35,"y":0.69},{"m":"GMA","s":"l","x":38,"y":0.72},{"m":"GMA","s":"l","x":40,"y":0.76},{"m":"GMA","s":"l","x":42,"y":0.80},{"m":"GMA","s":"l","x":44,"y":0.85},{"m":"GMA","s":"l","x":46,"y":0.88},{"m":"GMA","s":"l","x":48,"y":0.90},{"m":"GMA","s":"l","x":50,"y":0.88},{"m":"GMA","s":"l","x":52,"y":0.83},{"m":"GMA","s":"l","x":54,"y":0.74},{"m":"GMA","s":"l","x":56,"y":0.58},{"m":"GMA","s":"l","x":57,"y":0.45},{"m":"GMA","s":"l","x":58,"y":0.33},{"m":"GMA","s":"l","x":60,"y":0.22},{"m":"GMA","s":"l","x":62,"y":0.14},{"m":"GMA","s":"l","x":64,"y":0.10},{"m":"GMA","s":"l","x":66,"y":0.08},{"m":"GMA","s":"l","x":70,"y":0.06},{"m":"GMA","s":"l","x":75,"y":0.04},{"m":"GMA","s":"l","x":80,"y":0.04},{"m":"GMA","s":"l","x":90,"y":0.04},{"m":"GMA","s":"l","x":95,"y":0.05},{"m":"GMA","s":"l","x":98,"y":0.07},{"m":"GMA","s":"l","x":100,"y":0.07},
{"m":"VL","s":"u","x":0,"y":0.03},{"m":"VL","s":"u","x":3,"y":0.03},{"m":"VL","s":"u","x":5,"y":0.04},{"m":"VL","s":"u","x":7,"y":0.06},{"m":"VL","s":"u","x":9,"y":0.11},{"m":"VL","s":"u","x":11,"y":0.16},{"m":"VL","s":"u","x":13,"y":0.20},{"m":"VL","s":"u","x":14.5,"y":0.21},{"m":"VL","s":"u","x":17,"y":0.20},{"m":"VL","s":"u","x":19,"y":0.17},{"m":"VL","s":"u","x":21,"y":0.15},{"m":"VL","s":"u","x":24,"y":0.11},{"m":"VL","s":"u","x":27,"y":0.07},{"m":"VL","s":"u","x":30,"y":0.05},{"m":"VL","s":"u","x":35,"y":0.03},{"m":"VL","s":"u","x":40,"y":0.02},{"m":"VL","s":"u","x":50,"y":0.02},{"m":"VL","s":"u","x":60,"y":0.02},{"m":"VL","s":"u","x":70,"y":0.02},{"m":"VL","s":"u","x":80,"y":0.02},{"m":"VL","s":"u","x":83,"y":0.02},{"m":"VL","s":"u","x":86,"y":0.05},{"m":"VL","s":"u","x":89,"y":0.07},{"m":"VL","s":"u","x":92,"y":0.07},{"m":"VL","s":"u","x":95,"y":0.05},{"m":"VL","s":"u","x":100,"y":0.03},
{"m":"VL","s":"i","x":0,"y":0.03},{"m":"VL","s":"i","x":3,"y":0.03},{"m":"VL","s":"i","x":6,"y":0.05},{"m":"VL","s":"i","x":9,"y":0.05},{"m":"VL","s":"i","x":11,"y":0.04},{"m":"VL","s":"i","x":14,"y":0.04},{"m":"VL","s":"i","x":17,"y":0.04},{"m":"VL","s":"i","x":19,"y":0.03},{"m":"VL","s":"i","x":21,"y":0.05},{"m":"VL","s":"i","x":24,"y":0.06},{"m":"VL","s":"i","x":27,"y":0.05},{"m":"VL","s":"i","x":30,"y":0.04},{"m":"VL","s":"i","x":35,"y":0.02},{"m":"VL","s":"i","x":40,"y":0.02},{"m":"VL","s":"i","x":50,"y":0.02},{"m":"VL","s":"i","x":60,"y":0.03},{"m":"VL","s":"i","x":65,"y":0.03},{"m":"VL","s":"i","x":70,"y":0.03},{"m":"VL","s":"i","x":75,"y":0.02},{"m":"VL","s":"i","x":80,"y":0.03},{"m":"VL","s":"i","x":83,"y":0.08},{"m":"VL","s":"i","x":86,"y":0.12},{"m":"VL","s":"i","x":88,"y":0.12},{"m":"VL","s":"i","x":90,"y":0.10},{"m":"VL","s":"i","x":93,"y":0.08},{"m":"VL","s":"i","x":96,"y":0.06},{"m":"VL","s":"i","x":100,"y":0.04},
{"m":"VL","s":"l","x":0,"y":0.03},{"m":"VL","s":"l","x":3,"y":0.03},{"m":"VL","s":"l","x":6,"y":0.05},{"m":"VL","s":"l","x":8,"y":0.05},{"m":"VL","s":"l","x":10,"y":0.07},{"m":"VL","s":"l","x":12,"y":0.12},{"m":"VL","s":"l","x":14,"y":0.14},{"m":"VL","s":"l","x":16,"y":0.13},{"m":"VL","s":"l","x":18,"y":0.10},{"m":"VL","s":"l","x":21,"y":0.07},{"m":"VL","s":"l","x":24,"y":0.05},{"m":"VL","s":"l","x":28,"y":0.04},{"m":"VL","s":"l","x":32,"y":0.03},{"m":"VL","s":"l","x":40,"y":0.02},{"m":"VL","s":"l","x":50,"y":0.02},{"m":"VL","s":"l","x":58,"y":0.03},{"m":"VL","s":"l","x":60,"y":0.03},{"m":"VL","s":"l","x":65,"y":0.02},{"m":"VL","s":"l","x":70,"y":0.02},{"m":"VL","s":"l","x":75,"y":0.02},{"m":"VL","s":"l","x":80,"y":0.02},{"m":"VL","s":"l","x":83,"y":0.04},{"m":"VL","s":"l","x":86,"y":0.07},{"m":"VL","s":"l","x":89,"y":0.10},{"m":"VL","s":"l","x":91,"y":0.09},{"m":"VL","s":"l","x":94,"y":0.07},{"m":"VL","s":"l","x":97,"y":0.05},{"m":"VL","s":"l","x":100,"y":0.04},
{"m":"GXS","s":"u","x":0,"y":0.02},{"m":"GXS","s":"u","x":3,"y":0.02},{"m":"GXS","s":"u","x":5,"y":0.04},{"m":"GXS","s":"u","x":6,"y":0.12},{"m":"GXS","s":"u","x":8,"y":0.22},{"m":"GXS","s":"u","x":10,"y":0.30},{"m":"GXS","s":"u","x":12,"y":0.34},{"m":"GXS","s":"u","x":15,"y":0.36},{"m":"GXS","s":"u","x":18,"y":0.36},{"m":"GXS","s":"u","x":20,"y":0.35},{"m":"GXS","s":"u","x":22,"y":0.32},{"m":"GXS","s":"u","x":25,"y":0.26},{"m":"GXS","s":"u","x":28,"y":0.20},{"m":"GXS","s":"u","x":31,"y":0.15},{"m":"GXS","s":"u","x":34,"y":0.11},{"m":"GXS","s":"u","x":37,"y":0.08},{"m":"GXS","s":"u","x":40,"y":0.06},{"m":"GXS","s":"u","x":43,"y":0.04},{"m":"GXS","s":"u","x":46,"y":0.03},{"m":"GXS","s":"u","x":50,"y":0.03},{"m":"GXS","s":"u","x":55,"y":0.03},{"m":"GXS","s":"u","x":60,"y":0.02},{"m":"GXS","s":"u","x":70,"y":0.02},{"m":"GXS","s":"u","x":80,"y":0.02},{"m":"GXS","s":"u","x":90,"y":0.02},{"m":"GXS","s":"u","x":100,"y":0.02},
{"m":"GXS","s":"i","x":0,"y":0.07},{"m":"GXS","s":"i","x":3,"y":0.06},{"m":"GXS","s":"i","x":5,"y":0.05},{"m":"GXS","s":"i","x":8,"y":0.08},{"m":"GXS","s":"i","x":10,"y":0.10},{"m":"GXS","s":"i","x":13,"y":0.11},{"m":"GXS","s":"i","x":16,"y":0.14},{"m":"GXS","s":"i","x":19,"y":0.17},{"m":"GXS","s":"i","x":22,"y":0.18},{"m":"GXS","s":"i","x":25,"y":0.17},{"m":"GXS","s":"i","x":28,"y":0.15},{"m":"GXS","s":"i","x":31,"y":0.14},{"m":"GXS","s":"i","x":35,"y":0.13},{"m":"GXS","s":"i","x":40,"y":0.12},{"m":"GXS","s":"i","x":45,"y":0.12},{"m":"GXS","s":"i","x":50,"y":0.11},{"m":"GXS","s":"i","x":55,"y":0.10},{"m":"GXS","s":"i","x":58,"y":0.07},{"m":"GXS","s":"i","x":62,"y":0.05},{"m":"GXS","s":"i","x":66,"y":0.04},{"m":"GXS","s":"i","x":70,"y":0.04},{"m":"GXS","s":"i","x":80,"y":0.03},{"m":"GXS","s":"i","x":90,"y":0.03},{"m":"GXS","s":"i","x":97,"y":0.03},{"m":"GXS","s":"i","x":100,"y":0.07},
{"m":"GXS","s":"l","x":0,"y":0.05},{"m":"GXS","s":"l","x":3,"y":0.05},{"m":"GXS","s":"l","x":5,"y":0.05},{"m":"GXS","s":"l","x":7,"y":0.10},{"m":"GXS","s":"l","x":9,"y":0.16},{"m":"GXS","s":"l","x":11,"y":0.20},{"m":"GXS","s":"l","x":13,"y":0.23},{"m":"GXS","s":"l","x":16,"y":0.25},{"m":"GXS","s":"l","x":18,"y":0.26},{"m":"GXS","s":"l","x":20,"y":0.24},{"m":"GXS","s":"l","x":23,"y":0.21},{"m":"GXS","s":"l","x":26,"y":0.18},{"m":"GXS","s":"l","x":30,"y":0.15},{"m":"GXS","s":"l","x":34,"y":0.12},{"m":"GXS","s":"l","x":38,"y":0.09},{"m":"GXS","s":"l","x":42,"y":0.06},{"m":"GXS","s":"l","x":46,"y":0.04},{"m":"GXS","s":"l","x":50,"y":0.06},{"m":"GXS","s":"l","x":53,"y":0.05},{"m":"GXS","s":"l","x":56,"y":0.04},{"m":"GXS","s":"l","x":60,"y":0.03},{"m":"GXS","s":"l","x":65,"y":0.03},{"m":"GXS","s":"l","x":70,"y":0.02},{"m":"GXS","s":"l","x":80,"y":0.02},{"m":"GXS","s":"l","x":90,"y":0.02},{"m":"GXS","s":"l","x":97,"y":0.02},{"m":"GXS","s":"l","x":100,"y":0.05},
{"m":"GXM","s":"u","x":0,"y":0.02},{"m":"GXM","s":"u","x":2,"y":0.03},{"m":"GXM","s":"u","x":4,"y":0.05},{"m":"GXM","s":"u","x":6,"y":0.15},{"m":"GXM","s":"u","x":8,"y":0.28},{"m":"GXM","s":"u","x":10,"y":0.38},{"m":"GXM","s":"u","x":12,"y":0.43},{"m":"GXM","s":"u","x":13,"y":0.45},{"m":"GXM","s":"u","x":15,"y":0.43},{"m":"GXM","s":"u","x":18,"y":0.40},{"m":"GXM","s":"u","x":20,"y":0.37},{"m":"GXM","s":"u","x":22,"y":0.30},{"m":"GXM","s":"u","x":25,"y":0.20},{"m":"GXM","s":"u","x":28,"y":0.13},{"m":"GXM","s":"u","x":31,"y":0.08},{"m":"GXM","s":"u","x":35,"y":0.05},{"m":"GXM","s":"u","x":40,"y":0.03},{"m":"GXM","s":"u","x":45,"y":0.02},{"m":"GXM","s":"u","x":60,"y":0.02},{"m":"GXM","s":"u","x":80,"y":0.02},{"m":"GXM","s":"u","x":100,"y":0.02},
{"m":"GXM","s":"i","x":0,"y":0.05},{"m":"GXM","s":"i","x":3,"y":0.05},{"m":"GXM","s":"i","x":5,"y":0.05},{"m":"GXM","s":"i","x":8,"y":0.06},{"m":"GXM","s":"i","x":10,"y":0.07},{"m":"GXM","s":"i","x":13,"y":0.09},{"m":"GXM","s":"i","x":15,"y":0.11},{"m":"GXM","s":"i","x":17,"y":0.12},{"m":"GXM","s":"i","x":20,"y":0.11},{"m":"GXM","s":"i","x":23,"y":0.09},{"m":"GXM","s":"i","x":26,"y":0.08},{"m":"GXM","s":"i","x":30,"y":0.06},{"m":"GXM","s":"i","x":35,"y":0.05},{"m":"GXM","s":"i","x":40,"y":0.05},{"m":"GXM","s":"i","x":45,"y":0.05},{"m":"GXM","s":"i","x":50,"y":0.06},{"m":"GXM","s":"i","x":52,"y":0.07},{"m":"GXM","s":"i","x":55,"y":0.06},{"m":"GXM","s":"i","x":60,"y":0.05},{"m":"GXM","s":"i","x":65,"y":0.04},{"m":"GXM","s":"i","x":70,"y":0.03},{"m":"GXM","s":"i","x":80,"y":0.03},{"m":"GXM","s":"i","x":90,"y":0.03},{"m":"GXM","s":"i","x":97,"y":0.03},{"m":"GXM","s":"i","x":100,"y":0.05},
{"m":"GXM","s":"l","x":0,"y":0.04},{"m":"GXM","s":"l","x":3,"y":0.04},{"m":"GXM","s":"l","x":5,"y":0.05},{"m":"GXM","s":"l","x":7,"y":0.10},{"m":"GXM","s":"l","x":9,"y":0.17},{"m":"GXM","s":"l","x":11,"y":0.21},{"m":"GXM","s":"l","x":13,"y":0.24},{"m":"GXM","s":"l","x":15,"y":0.26},{"m":"GXM","s":"l","x":17,"y":0.26},{"m":"GXM","s":"l","x":19,"y":0.24},{"m":"GXM","s":"l","x":22,"y":0.19},{"m":"GXM","s":"l","x":25,"y":0.14},{"m":"GXM","s":"l","x":28,"y":0.10},{"m":"GXM","s":"l","x":32,"y":0.06},{"m":"GXM","s":"l","x":36,"y":0.04},{"m":"GXM","s":"l","x":40,"y":0.03},{"m":"GXM","s":"l","x":45,"y":0.02},{"m":"GXM","s":"l","x":60,"y":0.02},{"m":"GXM","s":"l","x":80,"y":0.02},{"m":"GXM","s":"l","x":100,"y":0.02},
{"m":"IL","s":"u","x":0,"y":0.33},{"m":"IL","s":"u","x":2,"y":0.24},{"m":"IL","s":"u","x":4,"y":0.15},{"m":"IL","s":"u","x":6,"y":0.10},{"m":"IL","s":"u","x":9,"y":0.07},{"m":"IL","s":"u","x":12,"y":0.05},{"m":"IL","s":"u","x":15,"y":0.04},{"m":"IL","s":"u","x":18,"y":0.03},{"m":"IL","s":"u","x":23,"y":0.03},{"m":"IL","s":"u","x":25,"y":0.05},{"m":"IL","s":"u","x":28,"y":0.08},{"m":"IL","s":"u","x":31,"y":0.10},{"m":"IL","s":"u","x":33,"y":0.15},{"m":"IL","s":"u","x":35,"y":0.25},{"m":"IL","s":"u","x":37,"y":0.38},{"m":"IL","s":"u","x":39,"y":0.50},{"m":"IL","s":"u","x":41,"y":0.61},{"m":"IL","s":"u","x":43,"y":0.70},{"m":"IL","s":"u","x":45,"y":0.76},{"m":"IL","s":"u","x":47,"y":0.80},{"m":"IL","s":"u","x":49,"y":0.81},{"m":"IL","s":"u","x":51,"y":0.81},{"m":"IL","s":"u","x":53,"y":0.82},{"m":"IL","s":"u","x":55,"y":0.79},{"m":"IL","s":"u","x":57,"y":0.70},{"m":"IL","s":"u","x":59,"y":0.58},{"m":"IL","s":"u","x":60.5,"y":0.53},{"m":"IL","s":"u","x":62,"y":0.53},{"m":"IL","s":"u","x":63.5,"y":0.56},{"m":"IL","s":"u","x":66,"y":0.50},{"m":"IL","s":"u","x":68,"y":0.40},{"m":"IL","s":"u","x":70,"y":0.33},{"m":"IL","s":"u","x":73,"y":0.29},{"m":"IL","s":"u","x":76,"y":0.26},{"m":"IL","s":"u","x":78,"y":0.24},{"m":"IL","s":"u","x":80,"y":0.20},{"m":"IL","s":"u","x":82,"y":0.18},{"m":"IL","s":"u","x":84,"y":0.18},{"m":"IL","s":"u","x":86,"y":0.20},{"m":"IL","s":"u","x":87,"y":0.22},{"m":"IL","s":"u","x":89,"y":0.20},{"m":"IL","s":"u","x":91,"y":0.17},{"m":"IL","s":"u","x":93,"y":0.18},{"m":"IL","s":"u","x":95,"y":0.25},{"m":"IL","s":"u","x":97,"y":0.33},{"m":"IL","s":"u","x":98,"y":0.35},{"m":"IL","s":"u","x":100,"y":0.32},
{"m":"IL","s":"i","x":0,"y":0.02},{"m":"IL","s":"i","x":10,"y":0.02},{"m":"IL","s":"i","x":15,"y":0.03},{"m":"IL","s":"i","x":25,"y":0.03},{"m":"IL","s":"i","x":30,"y":0.04},{"m":"IL","s":"i","x":33,"y":0.05},{"m":"IL","s":"i","x":36,"y":0.08},{"m":"IL","s":"i","x":39,"y":0.13},{"m":"IL","s":"i","x":42,"y":0.20},{"m":"IL","s":"i","x":45,"y":0.27},{"m":"IL","s":"i","x":48,"y":0.31},{"m":"IL","s":"i","x":50,"y":0.30},{"m":"IL","s":"i","x":53,"y":0.29},{"m":"IL","s":"i","x":55,"y":0.29},{"m":"IL","s":"i","x":57,"y":0.25},{"m":"IL","s":"i","x":59,"y":0.18},{"m":"IL","s":"i","x":61,"y":0.10},{"m":"IL","s":"i","x":63,"y":0.06},{"m":"IL","s":"i","x":65,"y":0.04},{"m":"IL","s":"i","x":70,"y":0.03},{"m":"IL","s":"i","x":75,"y":0.03},{"m":"IL","s":"i","x":80,"y":0.02},{"m":"IL","s":"i","x":100,"y":0.02},
{"m":"IL","s":"l","x":0,"y":0.09},{"m":"IL","s":"l","x":2,"y":0.07},{"m":"IL","s":"l","x":4,"y":0.05},{"m":"IL","s":"l","x":7,"y":0.04},{"m":"IL","s":"l","x":10,"y":0.03},{"m":"IL","s":"l","x":20,"y":0.03},{"m":"IL","s":"l","x":23,"y":0.04},{"m":"IL","s":"l","x":26,"y":0.06},{"m":"IL","s":"l","x":30,"y":0.07},{"m":"IL","s":"l","x":34,"y":0.07},{"m":"IL","s":"l","x":36,"y":0.10},{"m":"IL","s":"l","x":38,"y":0.16},{"m":"IL","s":"l","x":40,"y":0.24},{"m":"IL","s":"l","x":42,"y":0.32},{"m":"IL","s":"l","x":44,"y":0.40},{"m":"IL","s":"l","x":46,"y":0.46},{"m":"IL","s":"l","x":48,"y":0.49},{"m":"IL","s":"l","x":50,"y":0.49},{"m":"IL","s":"l","x":52,"y":0.48},{"m":"IL","s":"l","x":54,"y":0.47},{"m":"IL","s":"l","x":56,"y":0.42},{"m":"IL","s":"l","x":58,"y":0.30},{"m":"IL","s":"l","x":60,"y":0.18},{"m":"IL","s":"l","x":62,"y":0.15},{"m":"IL","s":"l","x":64,"y":0.16},{"m":"IL","s":"l","x":66,"y":0.12},{"m":"IL","s":"l","x":68,"y":0.09},{"m":"IL","s":"l","x":72,"y":0.07},{"m":"IL","s":"l","x":76,"y":0.06},{"m":"IL","s":"l","x":80,"y":0.04},{"m":"IL","s":"l","x":84,"y":0.04},{"m":"IL","s":"l","x":87,"y":0.05},{"m":"IL","s":"l","x":90,"y":0.05},{"m":"IL","s":"l","x":93,"y":0.04},{"m":"IL","s":"l","x":96,"y":0.05},{"m":"IL","s":"l","x":98,"y":0.09},{"m":"IL","s":"l","x":100,"y":0.10}
],
"v":[{"v":65}]},
"columns":3,
"spacing":{"row":72.8,"column":73.7},
"bounds":"flush",
"resolve":{"legend":{"color":"independent","strokeDash":"independent"}},
"concat":[
{"width":286,"height":143,"title":"Biceps femoris short head","layer":[
{"data":{"name":"d"},"transform":[{"filter":"datum.m=='BF'"}],"mark":{"type":"line","strokeWidth":3,"interpolate":"monotone"},"encoding":{"x":{"field":"x","type":"quantitative","scale":{"domain":[0,100]},"axis":{"values":[0,20,40,60,80,100],"labels":false,"title":null}},"y":{"field":"y","type":"quantitative","scale":{"domain":[0,1]},"axis":{"values":[0,0.5,1],"format":".1f","title":"activation"}},"color":{"field":"s","type":"nominal","scale":{"domain":["u","i","l"],"range":["#000000","#f2508c","#4a1486"]},"legend":null},"strokeDash":{"field":"s","type":"nominal","scale":{"domain":["u","i","l"],"range":[[1,0],[3,5],[19,5,3,5]]},"legend":null}}},
{"data":{"name":"v"},"mark":{"type":"rule","color":"#7b8a80","strokeWidth":3.7},"encoding":{"x":{"field":"v","type":"quantitative"}}}]},
{"width":286,"height":143,"title":"Gluteus medius (posterior)","layer":[
{"data":{"name":"d"},"transform":[{"filter":"datum.m=='GMP'"}],"mark":{"type":"line","strokeWidth":3,"interpolate":"monotone"},"encoding":{"x":{"field":"x","type":"quantitative","scale":{"domain":[0,100]},"axis":{"values":[0,20,40,60,80,100],"labels":false,"title":null}},"y":{"field":"y","type":"quantitative","scale":{"domain":[0,1]},"axis":{"values":[0,0.5,1],"format":".1f","title":null}},"color":{"field":"s","type":"nominal","scale":{"domain":["u","i","l"],"range":["#000000","#f2508c","#4a1486"]},"legend":null},"strokeDash":{"field":"s","type":"nominal","scale":{"domain":["u","i","l"],"range":[[1,0],[3,5],[19,5,3,5]]},"legend":null}}},
{"data":{"name":"v"},"mark":{"type":"rule","color":"#808080","strokeWidth":3.7},"encoding":{"x":{"field":"v","type":"quantitative"}}},
{"data":{"name":"v"},"mark":{"type":"rule","color":"#5e9f70","strokeWidth":2},"encoding":{"x":{"field":"v","type":"quantitative"}}}]},
{"width":286,"height":143,"title":"Psoas","layer":[
{"data":{"name":"d"},"transform":[{"filter":"datum.m=='PS'"}],"mark":{"type":"line","strokeWidth":3,"interpolate":"monotone"},"encoding":{"x":{"field":"x","type":"quantitative","scale":{"domain":[0,100]},"axis":{"values":[0,20,40,60,80,100],"labels":false,"title":null}},"y":{"field":"y","type":"quantitative","scale":{"domain":[0,1]},"axis":{"values":[0,0.5,1],"format":".1f","title":null}},"color":{"field":"s","type":"nominal","scale":{"domain":["u","i","l"],"range":["#000000","#f2508c","#4a1486"]},"legend":null},"strokeDash":{"field":"s","type":"nominal","scale":{"domain":["u","i","l"],"range":[[1,0],[3,5],[19,5,3,5]]},"legend":null}}},
{"data":{"name":"v"},"mark":{"type":"rule","color":"#7b8a80","strokeWidth":3.7},"encoding":{"x":{"field":"v","type":"quantitative"}}}]},
{"width":286,"height":143,"title":"Gastrocnemius medial head","layer":[
{"data":{"name":"d"},"transform":[{"filter":"datum.m=='GM'"}],"mark":{"type":"line","strokeWidth":3,"interpolate":"monotone"},"encoding":{"x":{"field":"x","type":"quantitative","scale":{"domain":[0,100]},"axis":{"values":[0,20,40,60,80,100],"labels":false,"title":null}},"y":{"field":"y","type":"quantitative","scale":{"domain":[0,1]},"axis":{"values":[0,0.5,1],"format":".1f","title":"activation"}},"color":{"field":"s","type":"nominal","scale":{"domain":["u","i","l"],"range":["#000000","#f2508c","#4a1486"]},"legend":null},"strokeDash":{"field":"s","type":"nominal","scale":{"domain":["u","i","l"],"range":[[1,0],[3,5],[19,5,3,5]]},"legend":null}}},
{"data":{"name":"v"},"mark":{"type":"rule","color":"#7b8a80","strokeWidth":3.7},"encoding":{"x":{"field":"v","type":"quantitative"}}}]},
{"width":286,"height":143,"title":"Rectus femoris","layer":[
{"data":{"name":"d"},"transform":[{"filter":"datum.m=='RF'"}],"mark":{"type":"line","strokeWidth":3,"interpolate":"monotone"},"encoding":{"x":{"field":"x","type":"quantitative","scale":{"domain":[0,100]},"axis":{"values":[0,20,40,60,80,100],"labels":false,"title":null}},"y":{"field":"y","type":"quantitative","scale":{"domain":[0,1]},"axis":{"values":[0,0.5,1],"format":".1f","title":null}},"color":{"field":"s","type":"nominal","scale":{"domain":["u","i","l"],"range":["#000000","#f2508c","#4a1486"]},"legend":null},"strokeDash":{"field":"s","type":"nominal","scale":{"domain":["u","i","l"],"range":[[1,0],[3,5],[19,5,3,5]]},"legend":null}}},
{"data":{"name":"v"},"mark":{"type":"rule","color":"#808080","strokeWidth":3.7},"encoding":{"x":{"field":"v","type":"quantitative"}}},
{"data":{"name":"v"},"mark":{"type":"rule","color":"#5e9f70","strokeWidth":2},"encoding":{"x":{"field":"v","type":"quantitative"}}}]},
{"width":286,"height":143,"title":"Semimembranosus","layer":[
{"data":{"name":"d"},"transform":[{"filter":"datum.m=='SM'"}],"mark":{"type":"line","strokeWidth":3,"interpolate":"monotone"},"encoding":{"x":{"field":"x","type":"quantitative","scale":{"domain":[0,100]},"axis":{"values":[0,20,40,60,80,100],"labels":false,"title":null}},"y":{"field":"y","type":"quantitative","scale":{"domain":[0,1]},"axis":{"values":[0,0.5,1],"format":".1f","title":null}},"color":{"field":"s","type":"nominal","scale":{"domain":["u","i","l"],"range":["#000000","#f2508c","#4a1486"]},"legend":null},"strokeDash":{"field":"s","type":"nominal","scale":{"domain":["u","i","l"],"range":[[1,0],[3,5],[19,5,3,5]]},"legend":null}}},
{"data":{"name":"v"},"mark":{"type":"rule","color":"#7b8a80","strokeWidth":3.7},"encoding":{"x":{"field":"v","type":"quantitative"}}}]},
{"width":286,"height":143,"title":"Soleus","layer":[
{"data":{"name":"d"},"transform":[{"filter":"datum.m=='SO'"}],"mark":{"type":"line","strokeWidth":3,"interpolate":"monotone"},"encoding":{"x":{"field":"x","type":"quantitative","scale":{"domain":[0,100]},"axis":{"values":[0,20,40,60,80,100],"title":null}},"y":{"field":"y","type":"quantitative","scale":{"domain":[0,1]},"axis":{"values":[0,0.5,1],"format":".1f","title":"activation"}},"color":{"field":"s","type":"nominal","scale":{"domain":["u","i","l"],"range":["#000000","#f2508c","#4a1486"]},"legend":null},"strokeDash":{"field":"s","type":"nominal","scale":{"domain":["u","i","l"],"range":[[1,0],[3,5],[19,5,3,5]]},"legend":null}}},
{"data":{"name":"v"},"mark":{"type":"rule","color":"#7b8a80","strokeWidth":3.7},"encoding":{"x":{"field":"v","type":"quantitative"}}}]},
{"width":286,"height":143,"title":"Gluteus medius (anterior)","layer":[
{"data":{"name":"d"},"transform":[{"filter":"datum.m=='GMA'"}],"mark":{"type":"line","strokeWidth":3,"interpolate":"monotone"},"encoding":{"x":{"field":"x","type":"quantitative","scale":{"domain":[0,100]},"axis":{"values":[0,20,40,60,80,100],"title":null}},"y":{"field":"y","type":"quantitative","scale":{"domain":[0,1]},"axis":{"values":[0,0.5,1],"format":".1f","title":null}},"color":{"field":"s","type":"nominal","scale":{"domain":["u","i","l"],"range":["#000000","#f2508c","#4a1486"]},"legend":null},"strokeDash":{"field":"s","type":"nominal","scale":{"domain":["u","i","l"],"range":[[1,0],[3,5],[19,5,3,5]]},"legend":null}}},
{"data":{"name":"v"},"mark":{"type":"rule","color":"#808080","strokeWidth":3.7},"encoding":{"x":{"field":"v","type":"quantitative"}}},
{"data":{"name":"v"},"mark":{"type":"rule","color":"#5e9f70","strokeWidth":2},"encoding":{"x":{"field":"v","type":"quantitative"}}}]},
{"width":286,"height":143,"title":"Vastus lateralis","layer":[
{"data":{"name":"d"},"transform":[{"filter":"datum.m=='VL'"}],"mark":{"type":"line","strokeWidth":3,"interpolate":"monotone"},"encoding":{"x":{"field":"x","type":"quantitative","scale":{"domain":[0,100]},"axis":{"values":[0,20,40,60,80,100],"title":null}},"y":{"field":"y","type":"quantitative","scale":{"domain":[0,1]},"axis":{"values":[0,0.5,1],"format":".1f","title":null}},"color":{"field":"s","type":"nominal","scale":{"domain":["u","i","l"],"range":["#000000","#f2508c","#4a1486"]},"legend":{"orient":"none","legendX":-5,"legendY":8.7,"title":null,"labelExpr":"datum.value=='u'?'loaded, unassist':datum.value=='i'?'loaded, ideal hip exo':'loaded, limited hip exo'","labelFontSize":18.3,"labelColor":"#000","labelLimit":400,"symbolType":"M-1,0H3","symbolSize":400,"symbolStrokeWidth":3,"fillColor":"rgba(255,255,255,0.8)","strokeColor":"#cccccc","cornerRadius":4,"padding":6,"rowPadding":7.3,"labelOffset":33}},"strokeDash":{"field":"s","type":"nominal","scale":{"domain":["u","i","l"],"range":[[1,0],[3,5],[19,5,3,5]]},"legend":{"orient":"none","legendX":-5,"legendY":8.7,"title":null,"labelExpr":"datum.value=='u'?'loaded, unassist':datum.value=='i'?'loaded, ideal hip exo':'loaded, limited hip exo'","labelFontSize":18.3,"labelColor":"#000","labelLimit":400,"symbolType":"M-1,0H3","symbolSize":400,"symbolStrokeWidth":3,"fillColor":"rgba(255,255,255,0.8)","strokeColor":"#cccccc","cornerRadius":4,"padding":6,"rowPadding":7.3,"labelOffset":33}}}},
{"data":{"name":"v"},"mark":{"type":"rule","color":"#7b8a80","strokeWidth":3.7},"encoding":{"x":{"field":"v","type":"quantitative"}}}]},
{"width":286,"height":143,"title":"Gluteus maximus (superior)","layer":[
{"data":{"name":"d"},"transform":[{"filter":"datum.m=='GXS'"}],"mark":{"type":"line","strokeWidth":3,"interpolate":"monotone"},"encoding":{"x":{"field":"x","type":"quantitative","scale":{"domain":[0,100]},"axis":{"values":[0,20,40,60,80,100],"title":"gait cycle (%)"}},"y":{"field":"y","type":"quantitative","scale":{"domain":[0,1]},"axis":{"values":[0,0.5,1],"format":".1f","title":"activation"}},"color":{"field":"s","type":"nominal","scale":{"domain":["u","i","l"],"range":["#000000","#f2508c","#4a1486"]},"legend":null},"strokeDash":{"field":"s","type":"nominal","scale":{"domain":["u","i","l"],"range":[[1,0],[3,5],[19,5,3,5]]},"legend":null}}},
{"data":{"name":"v"},"mark":{"type":"rule","color":"#7b8a80","strokeWidth":3.7},"encoding":{"x":{"field":"v","type":"quantitative"}}}]},
{"width":286,"height":143,"title":"Gluteus maximus (middle)","layer":[
{"data":{"name":"d"},"transform":[{"filter":"datum.m=='GXM'"}],"mark":{"type":"line","strokeWidth":3,"interpolate":"monotone"},"encoding":{"x":{"field":"x","type":"quantitative","scale":{"domain":[0,100]},"axis":{"values":[0,20,40,60,80,100],"title":"gait cycle (%)"}},"y":{"field":"y","type":"quantitative","scale":{"domain":[0,1]},"axis":{"values":[0,0.5,1],"format":".1f","title":null}},"color":{"field":"s","type":"nominal","scale":{"domain":["u","i","l"],"range":["#000000","#f2508c","#4a1486"]},"legend":null},"strokeDash":{"field":"s","type":"nominal","scale":{"domain":["u","i","l"],"range":[[1,0],[3,5],[19,5,3,5]]},"legend":null}}},
{"data":{"name":"v"},"mark":{"type":"rule","color":"#808080","strokeWidth":3.7},"encoding":{"x":{"field":"v","type":"quantitative"}}},
{"data":{"name":"v"},"mark":{"type":"rule","color":"#5e9f70","strokeWidth":2},"encoding":{"x":{"field":"v","type":"quantitative"}}}]},
{"width":286,"height":143,"title":"Iliacus","layer":[
{"data":{"name":"d"},"transform":[{"filter":"datum.m=='IL'"}],"mark":{"type":"line","strokeWidth":3,"interpolate":"monotone"},"encoding":{"x":{"field":"x","type":"quantitative","scale":{"domain":[0,100]},"axis":{"values":[0,20,40,60,80,100],"title":"gait cycle (%)"}},"y":{"field":"y","type":"quantitative","scale":{"domain":[0,1]},"axis":{"values":[0,0.5,1],"format":".1f","title":null}},"color":{"field":"s","type":"nominal","scale":{"domain":["u","i","l"],"range":["#000000","#f2508c","#4a1486"]},"legend":null},"strokeDash":{"field":"s","type":"nominal","scale":{"domain":["u","i","l"],"range":[[1,0],[3,5],[19,5,3,5]]},"legend":null}}},
{"data":{"name":"v"},"mark":{"type":"rule","color":"#7b8a80","strokeWidth":3.7},"encoding":{"x":{"field":"v","type":"quantitative"}}}]}
],
"config":{
"font":"DejaVu Sans",
"view":{"stroke":null},
"axis":{"domainColor":"#000","domainWidth":1.5,"tickColor":"#000","tickWidth":1.5,"tickSize":-6.5,"labelFontSize":18.3,"labelColor":"#000","labelFont":"DejaVu Sans","labelFlush":false,"titleFontSize":18.3,"titleFontWeight":"normal","titleColor":"#000","titleFont":"DejaVu Sans","titlePadding":8,"grid":false},
"axisX":{"labelPadding":12},
"axisY":{"labelPadding":9},
"title":{"fontSize":22,"fontWeight":"normal","font":"DejaVu Sans","color":"#000","anchor":"middle","offset":-5.3},
"legend":{"labelFont":"DejaVu Sans"}
}
}
